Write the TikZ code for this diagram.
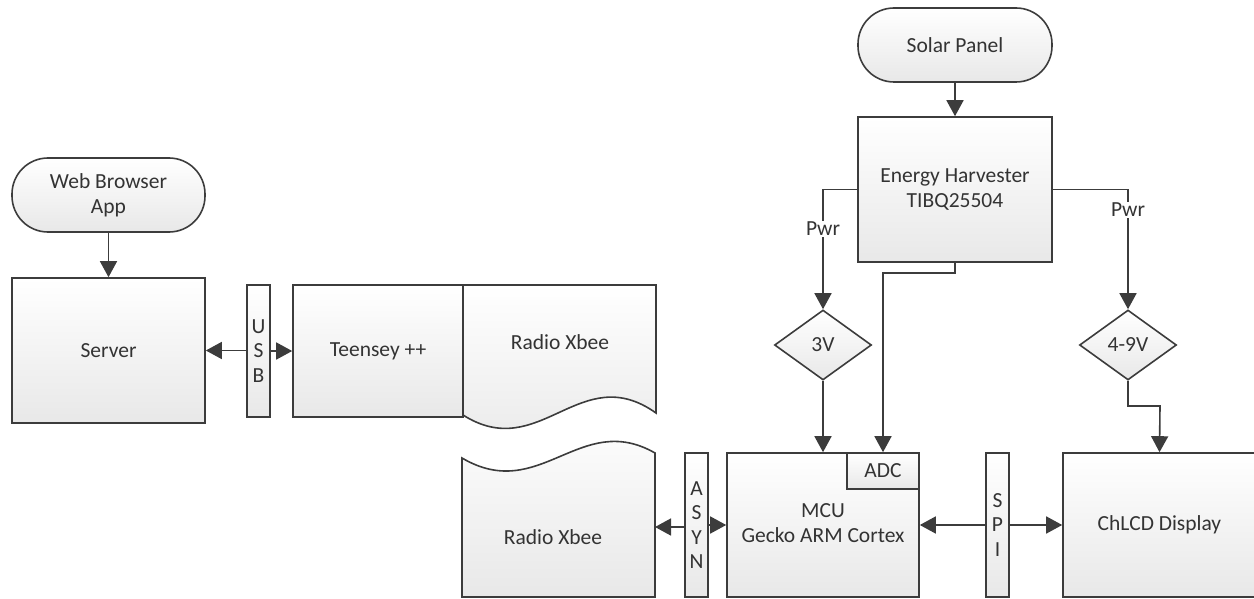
\documentclass[tikz,border=0pt]{standalone}
\usepackage{fontspec}
\setmainfont{Carlito}
\usetikzlibrary{arrows.meta,shapes.geometric,calc}
\definecolor{ln}{HTML}{3C3C3C}
\definecolor{tx}{HTML}{333333}
\begin{document}
\begin{tikzpicture}[x=1pt,y=-1pt,
  every node/.style={font=\fontsize{21.5}{25}\selectfont,text=tx},
  box/.style={draw=ln,line width=1.6pt,top color=white,bottom color=black!9,inner sep=0pt,align=center},
  term/.style={box,rounded corners=36pt},
  bar/.style={box,font=\fontsize{21.5}{24.5}\selectfont,align=center},
  dia/.style={draw=ln,line width=1.6pt,top color=white,bottom color=black!9,diamond,inner sep=0pt,minimum width=97pt,minimum height=70pt,aspect=1.4},
  conn/.style={draw=ln,line width=1.6pt,-{Triangle[length=16pt,width=17pt]}},
  lbl/.style={fill=white,inner sep=1pt}
]
\useasboundingbox (0,0) rectangle (1254,599);
% left side
\node[term,minimum width=193pt,minimum height=74pt] (web) at (108.5,195) {Web Browser\\App};
\node[box,minimum width=193pt,minimum height=145pt] (server) at (108.5,350.5) {Server};
\node[bar,minimum width=23pt,minimum height=132pt] (usb) at (258.5,351) {U\\S\\B};
\node[box,minimum width=170pt,minimum height=132pt] (teensey) at (378,351) {Teensey ++};
\draw[draw=ln,line width=1.6pt,top color=white,bottom color=black!9]
  (463,285) -- (656,285) -- (656,413) .. controls (580,359) and (540,464) .. (463,415) -- cycle;
\node (radio1) at (560,342) {Radio Xbee};
\draw[conn] (web) -- (server);
\draw[conn] (usb.west |- server.east) -- (server.east);
\draw[conn] (usb.east |- teensey.west) -- (teensey.west);
% lower row
\draw[draw=ln,line width=1.6pt,top color=white,bottom color=black!9]
  (462,597) -- (462,458) .. controls (540,504) and (580,410) .. (655,453) -- (655,597) -- cycle;
\node (radio2) at (553,537) {Radio Xbee};
\coordinate (r2e) at (655,527);
\node[bar,minimum width=23pt,minimum height=144pt] (asyn) at (696.5,525) {A\\S\\Y\\N};
\node[box,minimum width=192pt,minimum height=144pt] (mcu) at (823,525) {};
\node[align=center] (mcutext) at (823,523) {MCU\\Gecko ARM Cortex};
\node[box,minimum width=72pt,minimum height=36pt] (adc) at (883,471) {ADC};
\node[bar,minimum width=23pt,minimum height=144pt] (spi) at (997.5,525) {S\\P\\I};
\node[box,minimum width=193pt,minimum height=144pt] (lcd) at (1159.5,525) {ChLCD Display};
\draw[conn] (asyn.west |- r2e) -- (r2e);
\draw[conn] (asyn.east |- mcu.west) -- (mcu.west);
\draw[conn] (spi.west |- mcu.east) -- (mcu.east);
\draw[conn] (spi.east |- lcd.west) -- (lcd.west);
% right top
\node[term,minimum width=194pt,minimum height=74pt] (solar) at (955,45) {Solar Panel};
\node[box,minimum width=194pt,minimum height=145pt] (eh) at (955,189.5) {Energy Harvester\\TIBQ25504};
\node[dia] (d3) at (823,345) {3V};
\node[dia] (d49) at (1128,345) {4-9V};
\draw[conn] (solar) -- (eh);
\draw[conn] (eh.west) -| (d3.north) node[lbl,pos=0.664] {Pwr};
\draw[conn] (eh.east) -| (d49.north) node[lbl,pos=0.585] {Pwr};
\draw[conn] (eh.south) -- (955,273) -- (883,273) -- (adc.north);
\draw[conn] (d3.south) -- (mcu.north -| d3.south);
\draw[conn] (d49.south) -- (1128,406) -- (1160,406) -- (lcd.north);
\end{tikzpicture}
\end{document}
